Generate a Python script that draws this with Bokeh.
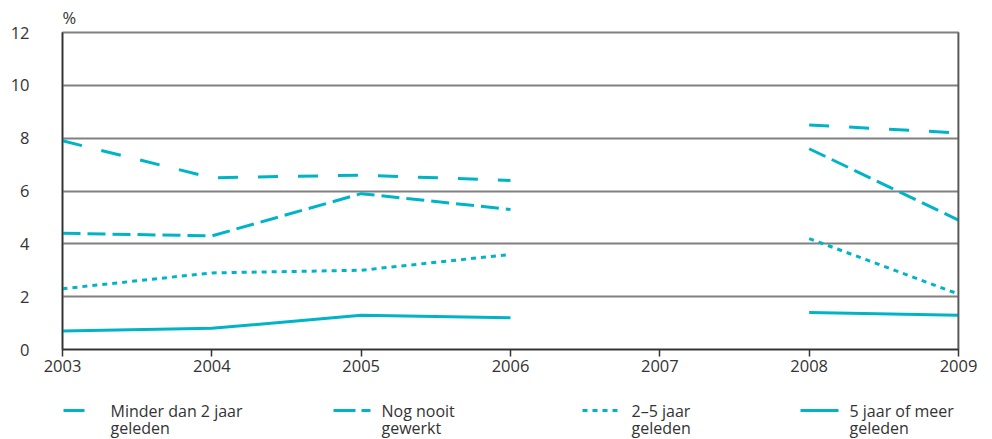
from bokeh.plotting import figure
from bokeh.layouts import column
from bokeh.models import Range1d, FixedTicker, Span
from bokeh.core.properties import value
from bokeh.embed import file_html
from bokeh.resources import INLINE

# ---- data -------------------------------------------------------------
years = [2003, 2004, 2005, 2006, 2007, 2008, 2009]
nan = float("nan")
minder_dan_2 = [4.4, 4.3, 5.9, 5.3, nan, 7.6, 4.9]
nog_nooit = [7.9, 6.5, 6.6, 6.4, nan, 8.5, 8.2]
twee_tot_vijf = [2.3, 2.9, 3.0, 3.6, nan, 4.2, 2.1]
vijf_of_meer = [0.7, 0.8, 1.3, 1.2, nan, 1.4, 1.3]

series_labels = [
    ("Minder dan 2 jaar", "geleden"),
    ("Nog nooit", "gewerkt"),
    ("2\u20135 jaar", "geleden"),
    ("5 jaar of meer", "geleden"),
]
y_ticks = [0, 2, 4, 6, 8, 10, 12]

# ---- styling ----------------------------------------------------------
FONT = "Open Sans"
FS = "16.5px"
LEG_FS = "16px"
TEXT = "#333333"
CYAN = "#00b4c8"
GRID = "#808080"
AXIS = "#333333"
LW = 3
dashes = ["18 7", "20 20", "5 5", "solid"]

p = figure(
    width=992, height=380,
    frame_width=896, frame_height=317,
    x_range=Range1d(2003, 2009), y_range=Range1d(0, 12),
    output_backend="svg", toolbar_location=None,
    min_border_left=62, min_border_right=34, min_border_top=32, min_border_bottom=31,
    title="%",
)
p.title.text_font = FONT
p.title.text_font_size = FS
p.title.text_font_style = "normal"
p.title.text_color = TEXT
p.title.align = "left"
p.title.standoff = 7
p.background_fill_color = "white"
p.border_fill_color = "white"
p.outline_line_color = GRID
p.outline_line_width = 2

for ys, dash in zip([minder_dan_2, nog_nooit, twee_tot_vijf, vijf_of_meer], dashes):
    p.line(years, ys, line_color=CYAN, line_width=LW, line_dash=dash)

# x axis
p.xaxis.ticker = FixedTicker(ticks=years)
p.xaxis.minor_tick_line_color = None
p.xaxis.major_tick_in = 0
p.xaxis.major_tick_out = 7
p.xaxis.major_tick_line_color = AXIS
p.xaxis.major_tick_line_width = 1.5
p.xaxis.axis_line_color = AXIS
p.xaxis.axis_line_width = 1.5
p.xaxis.major_label_standoff = 3
p.xaxis.major_label_text_font = FONT
p.xaxis.major_label_text_font_size = FS
p.xaxis.major_label_text_color = TEXT

# y axis
p.yaxis.ticker = FixedTicker(ticks=y_ticks)
p.yaxis.minor_tick_line_color = None
p.yaxis.major_tick_in = 0
p.yaxis.major_tick_out = 0
p.yaxis.axis_line_color = AXIS
p.yaxis.axis_line_width = 1.5
p.yaxis.major_label_standoff = 33
p.yaxis.major_label_text_font = FONT
p.yaxis.major_label_text_font_size = FS
p.yaxis.major_label_text_color = TEXT

p.xgrid.grid_line_color = None
p.ygrid.grid_line_color = GRID
p.ygrid.grid_line_width = 2

p.add_layout(Span(location=2009, dimension="height", line_color=AXIS, line_width=1.5))

# ---- legend strip (frame lined up with the chart frame, pixel coordinates) ----
leg = figure(
    width=992, height=59, frame_width=896, frame_height=59,
    x_range=Range1d(62, 958), y_range=Range1d(59, 0),
    output_backend="svg", toolbar_location=None,
    min_border=0, min_border_left=62, min_border_right=34,
    outline_line_color=None,
)
leg.axis.visible = False
leg.grid.visible = False

key_x0 = [63, 333, 582, 800]
key_x1 = [84, 370, 620, 838]
text_x = [110, 381, 631, 849]
legend_dashes = ["solid", "22 6 10 6", "5 5", "solid"]
row1, row2 = 30, 47

for x0, x1, tx, dash, (l1, l2) in zip(key_x0, key_x1, text_x, legend_dashes, series_labels):
    leg.line([x0, x1], [row1, row1], line_color=CYAN, line_width=LW, line_dash=dash)
    leg.text([tx, tx], [row1, row2], text=[l1, l2], text_font=value(FONT),
             text_font_size=LEG_FS, text_color=TEXT, text_baseline="middle", text_align="left")

layout = column(p, leg, spacing=0)
open("out.html", "w").write(file_html(layout, INLINE))
